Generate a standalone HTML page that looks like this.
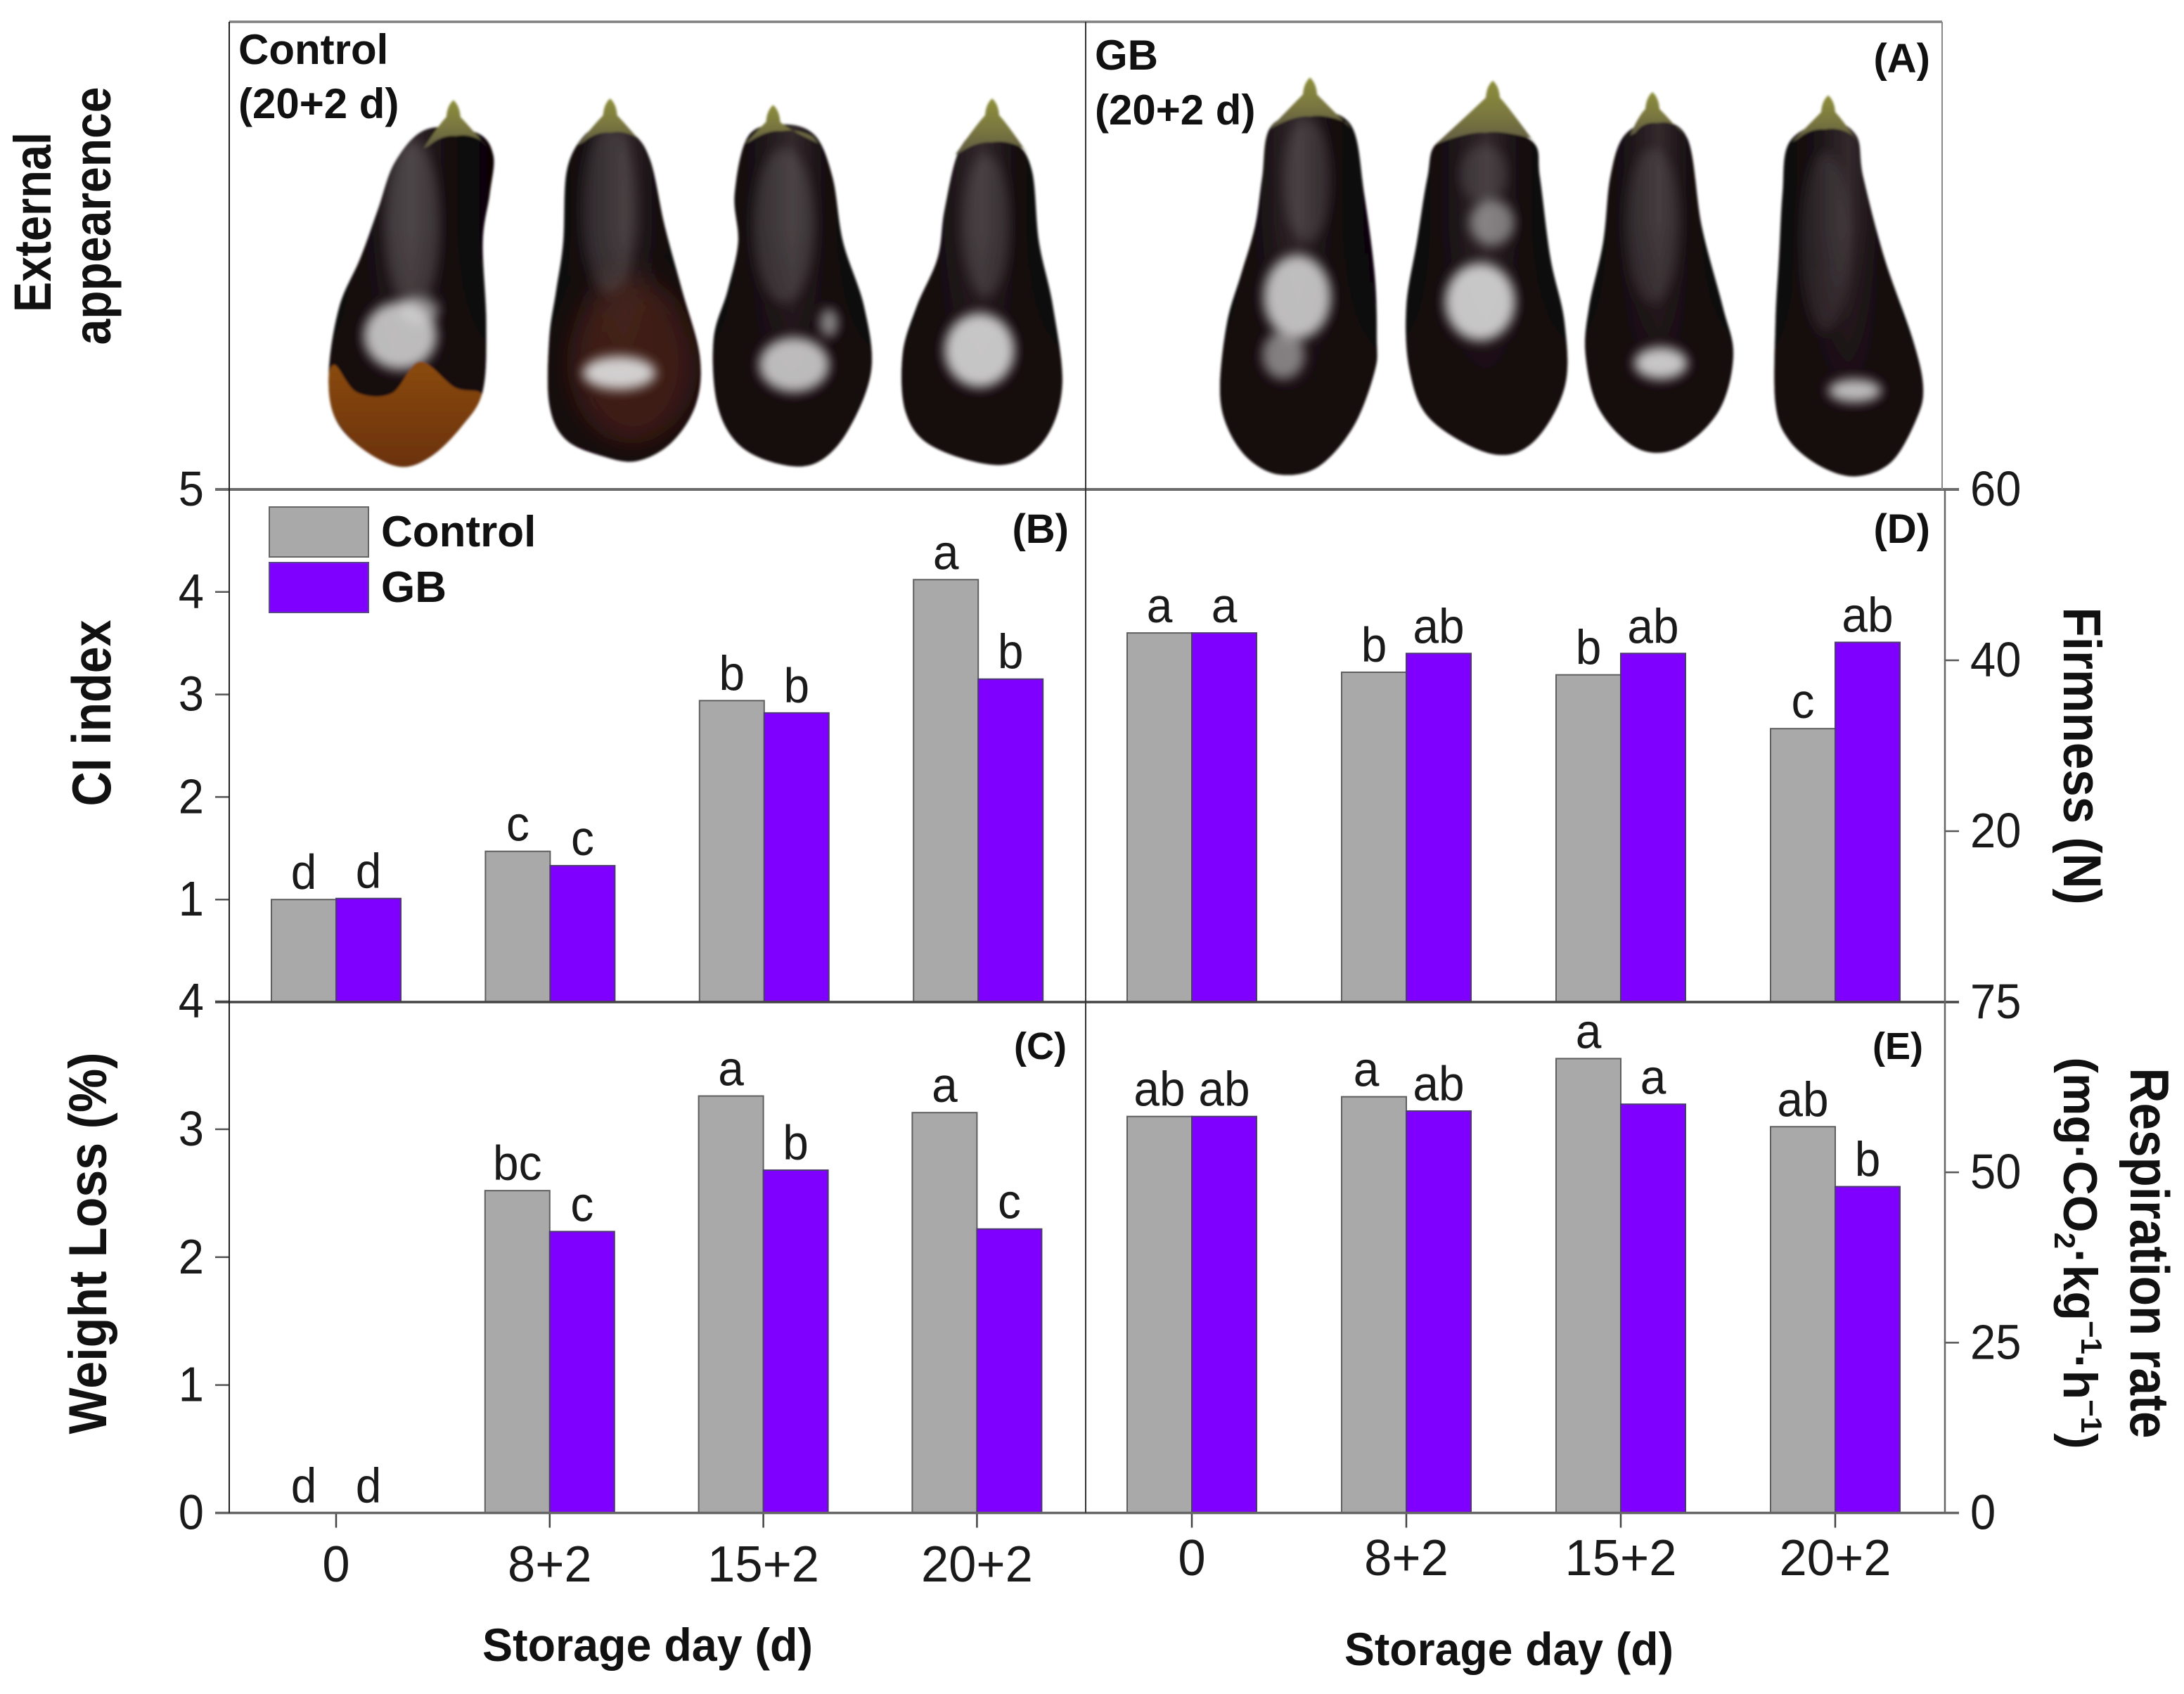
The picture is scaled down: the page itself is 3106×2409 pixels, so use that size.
<!DOCTYPE html>
<html lang="en">
<head>
<meta charset="utf-8">
<title>Eggplant storage chart</title>
<style>
html,body{margin:0;padding:0;background:#fff;}
svg{display:block;}
text{font-family:"Liberation Sans",Arial,sans-serif;fill:#111;}
.b{font-weight:bold;}
.tick{font-size:70px;fill:#1a1a1a;}
.let{font-size:70px;text-anchor:middle;fill:#1a1a1a;}
</style>
</head>
<body>
<svg id="fig" xmlns="http://www.w3.org/2000/svg" width="3106" height="2409" viewBox="0 0 3106 2409">
<defs>
<linearGradient id="skin" x1="0" x2="1" y1="0" y2="0">
<stop offset="0" stop-color="#090506"/><stop offset=".25" stop-color="#171013"/><stop offset=".5" stop-color="#332a2d"/><stop offset=".72" stop-color="#140c0f"/><stop offset="1" stop-color="#080405"/>
</linearGradient>
<linearGradient id="rot" x1="0" x2="0" y1="0" y2="1">
<stop offset="0" stop-color="#8a4a10"/><stop offset="1" stop-color="#6b3208"/>
</linearGradient>
<linearGradient id="bottomDark" x1="0" x2="0" y1="0" y2="1">
<stop offset=".3" stop-color="#140a0d" stop-opacity="0"/><stop offset=".75" stop-color="#160a0e" stop-opacity=".9"/><stop offset="1" stop-color="#12070a" stop-opacity="1"/>
</linearGradient>
<linearGradient id="calyxFill" x1="0" x2="0" y1="0" y2="1">
<stop offset="0" stop-color="#8d8f3a"/><stop offset=".55" stop-color="#7a7740"/><stop offset="1" stop-color="#5f5a44"/>
</linearGradient>
<filter id="soft" x="-40%" y="-40%" width="180%" height="180%"><feGaussianBlur stdDeviation="8"/></filter>
<filter id="softer" x="-40%" y="-40%" width="180%" height="180%"><feGaussianBlur stdDeviation="20"/></filter>
<filter id="edge" x="-5%" y="-5%" width="110%" height="110%"><feGaussianBlur stdDeviation="1.6"/></filter>
</defs>
<rect x="0" y="0" width="3106" height="2409" fill="#fff"/>
<g id="photos"></g>
<g id="charts"></g>

<g>
<text class="b" x="339" y="91" font-size="60">Control</text>
<text class="b" x="339" y="168" font-size="60">(20+2 d)</text>
<text class="b" x="1557" y="99" font-size="60">GB</text>
<text class="b" x="1557" y="177" font-size="60">(20+2 d)</text>
<text class="b" x="2745" y="103" font-size="58" text-anchor="end">(A)</text>
<text class="b" x="1520" y="772" font-size="58" text-anchor="end">(B)</text>
<text class="b" x="1517" y="1506" font-size="54" text-anchor="end">(C)</text>
<text class="b" x="2745" y="772" font-size="58" text-anchor="end">(D)</text>
<text class="b" x="2735" y="1506" font-size="54" text-anchor="end">(E)</text>
</g>

<g>
<text class="b" font-size="74" text-anchor="middle" textLength="256" lengthAdjust="spacingAndGlyphs" transform="translate(72 316) rotate(-90)">External</text>
<text class="b" font-size="74" text-anchor="middle" textLength="367" lengthAdjust="spacingAndGlyphs" transform="translate(157 307) rotate(-90)">appearence</text>
<text class="b" font-size="78" text-anchor="middle" textLength="265" lengthAdjust="spacingAndGlyphs" transform="translate(157 1014) rotate(-90)">CI index</text>
<text class="b" font-size="76" text-anchor="middle" textLength="543" lengthAdjust="spacingAndGlyphs" transform="translate(151 1768) rotate(-90)">Weight Loss (%)</text>
<text class="b" font-size="76" text-anchor="middle" textLength="423" lengthAdjust="spacingAndGlyphs" transform="translate(2935 1075) rotate(90)">Firmness (N)</text>
<text class="b" font-size="78" text-anchor="middle" textLength="527" lengthAdjust="spacingAndGlyphs" transform="translate(3030 1782) rotate(90)">Respiration rate</text>
<text class="b" font-size="68" text-anchor="middle" transform="translate(2935 1782) rotate(90)">(mg·CO<tspan font-size="42" dy="13">2</tspan><tspan dy="-13">·kg</tspan><tspan font-size="42" dy="-25">−1</tspan><tspan dy="25">·h</tspan><tspan font-size="42" dy="-25">−1</tspan><tspan dy="25">)</tspan></text>
<text class="b" font-size="66" text-anchor="middle" textLength="470" lengthAdjust="spacingAndGlyphs" x="921" y="2362">Storage day (d)</text>
<text class="b" font-size="66" text-anchor="middle" textLength="468" lengthAdjust="spacingAndGlyphs" x="2146" y="2368">Storage day (d)</text>
</g>

<g>
<rect x="383" y="721" width="141" height="71" fill="#a9a9a9" stroke="#666" stroke-width="2"/>
<rect x="383" y="800" width="141" height="71" fill="#8000ff" stroke="#5a4a8a" stroke-width="2"/>
<text class="b" x="542" y="777" font-size="62">Control</text>
<text class="b" x="542" y="856" font-size="62">GB</text>
</g>
</svg>

<script>
// ---- chart data ----
const categories = ['0', '8+2', '15+2', '20+2'];

const ciControl = [1.0, 1.47, 2.94, 4.12];
const ciGB = [1.01, 1.33, 2.82, 3.15];
const ciControlLetters = ['d', 'c', 'b', 'a'];
const ciGBLetters = ['d', 'c', 'b', 'b'];
const ciTicks = [1, 2, 3, 4, 5];

const weightControl = [0, 2.52, 3.26, 3.13];
const weightGB = [0, 2.2, 2.68, 2.22];
const weightControlLetters = ['d', 'bc', 'a', 'a'];
const weightGBLetters = ['d', 'c', 'b', 'c'];
const weightTicks = [0, 1, 2, 3, 4];

const firmControl = [43.2, 38.6, 38.3, 32.0];
const firmGB = [43.2, 40.8, 40.8, 42.1];
const firmControlLetters = ['a', 'b', 'b', 'c'];
const firmGBLetters = ['a', 'ab', 'ab', 'ab'];
const firmTicks = [20, 40, 60];

const respControl = [58.2, 61.1, 66.7, 56.7];
const respGB = [58.2, 59.0, 60.0, 47.9];
const respControlLetters = ['ab', 'a', 'a', 'ab'];
const respGBLetters = ['ab', 'ab', 'a', 'b'];
const respTicks = [0, 25, 50, 75];

// ---- drawing ----
const NS = 'http://www.w3.org/2000/svg';
const charts = document.getElementById('charts');
const photos = document.getElementById('photos');

function make(tag, parent, attrs) {
  const el = document.createElementNS(NS, tag);
  for (const k in attrs) el.setAttribute(k, attrs[k]);
  parent.appendChild(el);
  return el;
}

function linearY(domainMax, yBottom, yTop) {
  return v => yBottom - (v / domainMax) * (yBottom - yTop);
}

function drawPanel(p) {
  const y = linearY(p.max, p.bottom, p.top);
  const xc = i => p.x0 + i * p.step;
  const g = make('g', charts, {});
  
  

  categories.forEach((cat, i) => {
    const c = xc(i);
    const ctrl = p.control[i];
    const gb = p.gb[i];
    if (ctrl > 0) {
      const r = make('rect', g, {x: c - p.w, y: y(ctrl), width: p.w, height: p.bottom - y(ctrl), fill: '#a9a9a9', stroke: '#5f5f5f', 'stroke-width': 2});
      
      
    }
    if (gb > 0) {
      const r = make('rect', g, {x: c, y: y(gb), width: p.w, height: p.bottom - y(gb), fill: '#8000ff', stroke: '#4b3a6e', 'stroke-width': 2});
      
      
    }
    const shift = (p.controlLetterShift && p.controlLetterShift[i]) || 0;
    const t1 = make('text', g, {class: 'let', transform: 'translate(' + (c - p.w / 2 + shift) + ' ' + (y(ctrl) - 15) + ') scale(.94 1)'});
    t1.textContent = p.controlLetters[i];
    
    
    const t2 = make('text', g, {class: 'let', transform: 'translate(' + (c + p.w / 2) + ' ' + (y(gb) - 15) + ') scale(.94 1)'});
    t2.textContent = p.gbLetters[i];
    
    

    if (p.xLabels) {
      const tk = make('line', g, {x1: c, x2: c, y1: p.bottom, y2: p.bottom + 21, stroke: '#444', 'stroke-width': 2.5});
      
      
      const lb = make('text', g, {class: 'tick', transform: 'translate(' + c + ' ' + p.xLabelY + ') scale(.98 1)', 'text-anchor': 'middle', 'font-size': 72});
      lb.setAttribute('style', 'font-size:72px');
      lb.textContent = cat;
      
      
    }
  });

  p.ticks.forEach(v => {
    const ty = y(v);
    const tk = make('line', g, {x1: p.axisX, x2: p.axisX + p.side * 20, y1: ty, y2: ty, stroke: '#555', 'stroke-width': 2.5});
    
    
    const lb = make('text', g, {class: 'tick', transform: 'translate(' + (p.axisX + p.side * 36) + ' ' + (ty + 23) + ') scale(.93 1)', 'text-anchor': p.side < 0 ? 'end' : 'start'});
    lb.textContent = v;
    
    
  });
}

drawPanel({name: 'ci-index-panel', max: 5, top: 696, bottom: 1425, x0: 478, step: 304.4, w: 92, axisX: 326, side: -1,
  control: ciControl, gb: ciGB, controlLetters: ciControlLetters, gbLetters: ciGBLetters, ticks: ciTicks});
drawPanel({name: 'weight-loss-panel', max: 4, top: 1424, bottom: 2151.5, x0: 478, step: 303.8, w: 92, axisX: 326, side: -1,
  control: weightControl, gb: weightGB, controlLetters: weightControlLetters, gbLetters: weightGBLetters, ticks: weightTicks, xLabels: true, xLabelY: 2249});
drawPanel({name: 'firmness-panel', max: 60, top: 696, bottom: 1425, x0: 1695, step: 305, w: 92, axisX: 2766, side: 1,
  control: firmControl, gb: firmGB, controlLetters: firmControlLetters, gbLetters: firmGBLetters, ticks: firmTicks});
drawPanel({name: 'respiration-panel', max: 75, top: 1425, bottom: 2151.5, x0: 1695, step: 305, w: 92, axisX: 2766, side: 1,
  control: respControl, gb: respGB, controlLetters: respControlLetters, gbLetters: respGBLetters, ticks: respTicks, xLabels: true, xLabelY: 2240, controlLetterShift: {1: -11}});

// frame lines
const frame = make('g', charts, {});


const frameLines = [
  ['frame-top', 326, 31, 2762, 31, '#808080', 3.5],
  ['frame-photo-bottom', 306, 696, 2786, 696, '#6a6a6a', 4],
  ['frame-mid', 306, 1425, 2786, 1425, '#444', 3.5],
  ['frame-bottom', 306, 2151.5, 2786, 2151.5, '#666', 3.5],
  ['left-axis', 326, 31, 326, 2151.5, '#222', 2],
  ['center-axis', 1544, 31, 1544, 2151.5, '#333', 2],
  ['right-axis-top', 2762, 31, 2762, 696, '#888', 2],
  ['right-axis', 2766, 696, 2766, 2151.5, '#666', 2.5]
];
frameLines.forEach(f => {
  const l = make('line', frame, {x1: f[1], y1: f[2], x2: f[3], y2: f[4], stroke: f[5], 'stroke-width': f[6]});
  
  
});

// ---- eggplant illustrations (outline traced in image space) ----
function smooth(pts) {
  const n = pts.length;
  let d = 'M' + pts[0][0].toFixed(1) + ' ' + pts[0][1].toFixed(1);
  for (let i = 0; i < n; i++) {
    const a = pts[(i - 1 + n) % n], b = pts[i], c = pts[(i + 1) % n], e = pts[(i + 2) % n];
    const c1x = b[0] + (c[0] - a[0]) / 6, c1y = b[1] + (c[1] - a[1]) / 6;
    const c2x = c[0] - (e[0] - b[0]) / 6, c2y = c[1] - (e[1] - b[1]) / 6;
    d += 'C' + c1x.toFixed(1) + ' ' + c1y.toFixed(1) + ' ' + c2x.toFixed(1) + ' ' + c2y.toFixed(1) + ' ' + c[0].toFixed(1) + ' ' + c[1].toFixed(1);
  }
  return d + 'Z';
}

const fx1 = X => X / 1.005;
const fx2 = X => X + 1540;
const fy = Y => Y / 2.178;

const plants = [
  {name: 'control-1', fx: fx1, body: [[610,400],[565,500],[540,650],[515,800],[485,950],[470,1150],[478,1290],[515,1385],[570,1445],[615,1415],[660,1320],[690,1210],[695,1000],[690,750],[700,600],[705,480],[680,410]],
    stem: [648,310], calyx: [605,698,460], lights: [[590,700,40,260,.16],[572,1040,52,105,.85],[600,960,28,40,.55]],
    rot: [[478,1130],[510,1215],[560,1218],[600,1120],[650,1200],[688,1222],[660,1320],[615,1415],[570,1445],[515,1385],[478,1290],[468,1200]]},
  {name: 'control-2', fx: fx1, body: [[835,420],[810,530],[805,750],[795,900],[785,1050],[785,1250],[808,1360],[860,1412],[910,1428],[960,1370],[995,1250],[1000,1100],[975,900],[950,700],[930,500],[905,415],[865,395]],
    stem: [872,305], calyx: [825,920,450], lights: [[870,650,40,260,.12],[885,1155,52,52,.95]], brown: [905,1120,90,260]},
  {name: 'control-3', fx: fx1, body: [[1070,420],[1050,600],[1055,750],[1040,900],[1020,1050],[1025,1250],[1055,1375],[1110,1435],[1165,1435],[1210,1340],[1245,1150],[1235,950],[1205,750],[1190,550],[1165,420],[1120,385]],
    stem: [1105,325], calyx: [1065,1170,445], lights: [[1120,700,45,240,.14],[1135,1130,50,85,.85],[1185,1000,13,45,.6]]},
  {name: 'control-4', fx: fx1, body: [[1370,470],[1350,650],[1340,800],[1310,950],[1290,1100],[1295,1280],[1335,1385],[1430,1440],[1490,1370],[1518,1200],[1505,950],[1485,750],[1475,530],[1450,440],[1400,410]],
    stem: [1418,305], calyx: [1365,1470,480], lights: [[1410,700,35,220,.13],[1400,1085,50,115,.9]]},
  {name: 'gb-1', fx: fx2, body: [[268,390],[255,550],[245,700],[225,850],[205,1000],[195,1200],[205,1320],[235,1420],[280,1470],[335,1445],[385,1320],[415,1150],[418,1050],[415,850],[400,600],[382,390],[330,345]],
    stem: [323,240], calyx: [265,382,400], lights: [[320,560,35,190,.13],[305,920,48,130,.85],[285,1100,30,75,.55]]},
  {name: 'gb-2', fx: fx2, body: [[505,440],[490,550],[475,750],[460,950],[465,1150],[495,1300],[580,1405],[640,1370],[685,1200],[685,1000],[665,800],[650,550],[640,440],[575,390]],
    stem: [583,250], calyx: [500,645,450], lights: [[570,540,35,90,.13],[582,690,32,70,.5],[565,935,50,120,.9]]},
  {name: 'gb-3', fx: fx2, body: [[770,420],[750,550],[740,750],[720,950],[715,1100],[735,1270],[790,1390],[850,1385],[905,1270],[925,1100],[910,950],[880,700],[860,430],[815,375]],
    stem: [810,285], calyx: [778,855,420], lights: [[810,700,40,240,.11],[822,1125,38,50,.9]]},
  {name: 'gb-4', fx: fx2, body: [[1005,440],[995,600],[990,800],[985,1000],[985,1250],[1005,1365],[1050,1445],[1100,1475],[1150,1430],[1185,1300],[1195,1200],[1180,1050],[1140,800],[1110,550],[1100,420],[1060,375]],
    stem: [1060,295], calyx: [1008,1102,440], lights: [[1055,750,35,280,.1],[1098,1210,38,36,.85]]}
];

plants.forEach(pl => {
  const fx = pl.fx;
  const conv = a => [fx(a[0]), fy(a[1])];
  const g = make('g', photos, {filter: 'url(#edge)'});
  
  
  const clipId = 'clip-' + pl.name;
  const d = smooth(pl.body.map(conv));
  const cp = make('clipPath', g, {id: clipId});
  make('path', cp, {d: d});
  make('path', g, {d: d, fill: 'url(#skin)'});
  make('path', g, {d: d, fill: 'url(#bottomDark)'});
  const inner = make('g', g, {'clip-path': 'url(#' + clipId + ')'});
  if (pl.brown) {
    make('ellipse', inner, {cx: fx(pl.brown[0]), cy: fy(pl.brown[1]), rx: pl.brown[2], ry: pl.brown[3] / 2.178, fill: '#5a2a1c', opacity: .6, filter: 'url(#softer)'});
  }
  pl.lights.forEach(l => {
    make('ellipse', inner, {cx: fx(l[0]), cy: fy(l[1]), rx: l[2], ry: l[3] / 2.178, fill: '#dadada', opacity: l[4], filter: 'url(#soft)'});
  });
  if (pl.rot) {
    make('path', inner, {d: smooth(pl.rot.map(conv)), fill: 'url(#rot)'});
  }
  // calyx cap and stem
  const cxL = fx(pl.calyx[0]), cxR = fx(pl.calyx[1]), cyB = fy(pl.calyx[2]);
  const sx = fx(pl.stem[0]), sy = fy(pl.stem[1]);
  const mid = (cxL + cxR) / 2;
  const cal = 'M' + sx + ' ' + sy +
    'Q' + (sx + 9) + ' ' + (sy + 8) + ' ' + (sx + 10) + ' ' + (sy + 24) +
    'Q' + (sx + 20) + ' ' + (sy + 34) + ' ' + cxR + ' ' + cyB +
    'L' + (cxR - 8) + ' ' + (cyB - 10) +
    'Q' + (mid + 20) + ' ' + (cyB - 22) + ' ' + mid + ' ' + (cyB - 18) +
    'Q' + (mid - 20) + ' ' + (cyB - 20) + ' ' + (cxL + 8) + ' ' + (cyB - 4) +
    'L' + cxL + ' ' + cyB +
    'Q' + (sx - 20) + ' ' + (sy + 34) + ' ' + (sx - 10) + ' ' + (sy + 24) +
    'Q' + (sx - 9) + ' ' + (sy + 8) + ' ' + sx + ' ' + sy + 'Z';
  make('path', g, {d: cal, fill: 'url(#calyxFill)'});
});
</script>
</body>
</html>
